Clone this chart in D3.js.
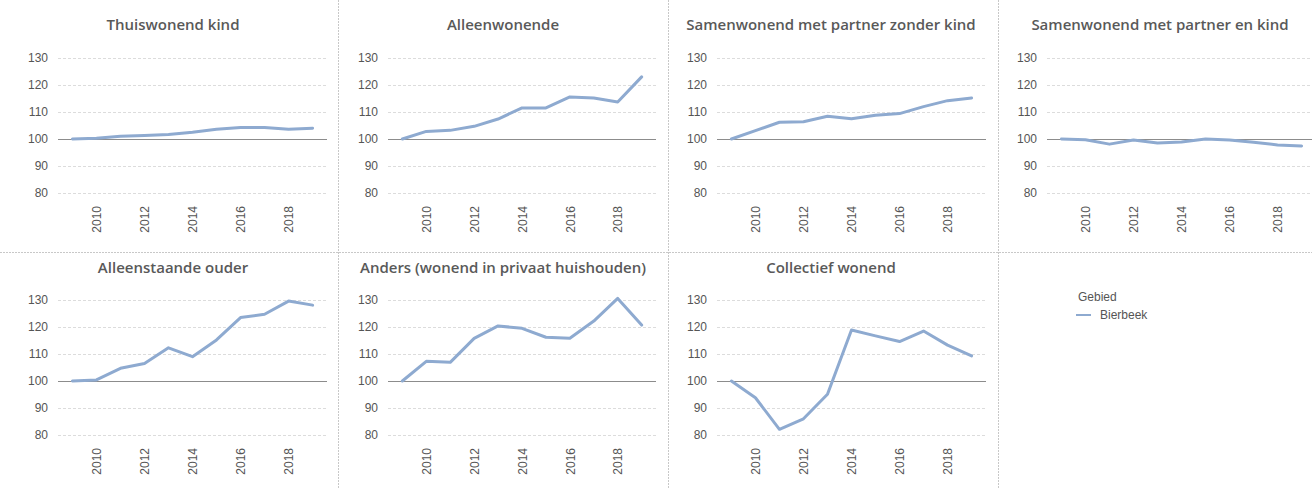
<!DOCTYPE html>
<html><head><meta charset="utf-8">
<script src="https://cdn.jsdelivr.net/npm/d3@7"></script>
<style>
html,body{margin:0;padding:0;background:#fff;}
svg{display:block;}
</style></head>
<body>
<svg id="chart" width="1312" height="488"></svg>
<script>
const years = [2009,2010,2011,2012,2013,2014,2015,2016,2017,2018,2019];
const yTicks = [80,90,100,110,120,130];
const xTicks = [2010,2012,2014,2016,2018];
const titles = ["Thuiswonend kind","Alleenwonende","Samenwonend met partner zonder kind","Samenwonend met partner en kind","Alleenstaande ouder","Anders (wonend in privaat huishouden)","Collectief wonend"];
const thuiswonendKind = [100,100.3,101,101.3,101.7,102.5,103.6,104.3,104.3,103.6,104.0];
const alleenwonende = [100,102.8,103.2,104.7,107.4,111.5,111.5,115.6,115.2,113.7,123.0];
const samenZonderKind = [100,103.1,106.2,106.4,108.4,107.5,108.8,109.4,112.0,114.2,115.2];
const samenMetKind = [100,99.7,98.1,99.6,98.5,98.9,100,99.6,98.8,97.8,97.4];
const alleenstaandeOuder = [100,100.4,104.7,106.5,112.3,109.0,115.2,123.5,124.7,129.6,128.1];
const anders = [100,107.3,106.9,115.8,120.4,119.5,116.2,115.8,122.2,130.6,120.7];
const collectief = [100,93.8,82.1,86.0,95.1,118.9,116.7,114.6,118.5,113.3,109.3];
const seriesList = [thuiswonendKind,alleenwonende,samenZonderKind,samenMetKind,alleenstaandeOuder,anders,collectief];
const legendTitle = "Gebied";
const legendItem = "Bierbeek";

const lineColor = "#8eaad0";
const svg = d3.select("#chart");

// layout
const colGrid = [[58,327],[388,656],[717,986],[1047,1316]];
const colCenter = [173,503,831,1160];
const rowY = [[193,58],[435,300]];
const rowTitleY = [30,273];
const dividersX = [338.5,668.5,998.5];
const dividerY = 252.5;

// dividers
dividersX.forEach(x=>{
  svg.append("line").attr("x1",x).attr("x2",x).attr("y1",0).attr("y2",488)
    .attr("stroke","#c8c8c8").attr("stroke-dasharray","2,1");
});
svg.append("line").attr("x1",0).attr("x2",1312).attr("y1",dividerY).attr("y2",dividerY)
  .attr("stroke","#c8c8c8").attr("stroke-dasharray","2,1");

seriesList.forEach((vals,i)=>{
  const col = i%4, row = Math.floor(i/4);
  const [gx0,gx1] = colGrid[col];
  const x = d3.scalePoint().domain(years).range([gx0,gx1]).padding(0.6);
  const y = d3.scaleLinear().domain([80,130]).range(rowY[row]);
  const g = svg.append("g");

  g.append("text").attr("x",colCenter[col]).attr("y",rowTitleY[row])
    .attr("text-anchor","middle").attr("font-family","'Open Sans', sans-serif")
    .attr("font-size",15).attr("font-weight",600).attr("fill","#595959").text(titles[i]);

  // grid
  yTicks.forEach(t=>{
    g.append("line").attr("x1",gx0).attr("x2",gx1).attr("y1",Math.round(y(t))+0.5).attr("y2",Math.round(y(t))+0.5)
      .attr("stroke", t===100 ? "#8c8c8c" : "#dcdcdc")
      .attr("stroke-dasharray", t===100 ? null : "3,2");
  });
  // y axis
  const ya = d3.axisLeft(y).tickValues(yTicks).tickSize(0).tickPadding(0);
  const yg = g.append("g").attr("transform",`translate(${gx0-10},0)`).call(ya);
  yg.select(".domain").remove();
  yg.selectAll("text").attr("font-family","'Liberation Sans', Arial, sans-serif").attr("font-size",12).attr("fill","#555");

  // x axis
  const xa = d3.axisBottom(x).tickValues(xTicks).tickSize(0).tickPadding(0);
  const xg = g.append("g").attr("transform",`translate(0,${y(80)+13})`).call(xa);
  xg.select(".domain").remove();
  xg.selectAll("text").attr("font-family","'Liberation Sans', Arial, sans-serif").attr("font-size",12).attr("fill","#555")
    .attr("text-anchor","end").attr("transform","rotate(-90)").attr("dy","0.35em").attr("x",0).attr("y",0);

  const line = d3.line().x((d,j)=>x(years[j])).y(d=>y(d));
  g.append("path").datum(vals).attr("d",line).attr("fill","none")
    .attr("stroke",lineColor).attr("stroke-width",3).attr("stroke-linejoin","round").attr("stroke-linecap","round");
});

// legend
const lg = svg.append("g");
lg.append("text").attr("x",1078).attr("y",301).attr("font-family","'Liberation Sans', Arial, sans-serif")
  .attr("font-size",12).attr("fill","#555").text(legendTitle);
lg.append("line").attr("x1",1076).attr("x2",1091).attr("y1",315).attr("y2",315)
  .attr("stroke",lineColor).attr("stroke-width",2);
lg.append("text").attr("x",1100).attr("y",319).attr("font-family","'Liberation Sans', Arial, sans-serif")
  .attr("font-size",12).attr("fill","#555").text(legendItem);
</script>
</body></html>
